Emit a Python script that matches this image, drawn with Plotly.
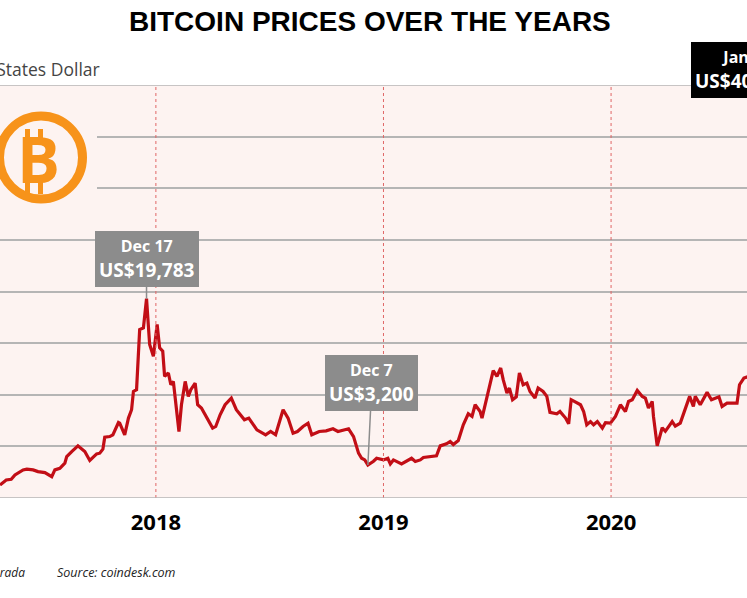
import plotly.graph_objects as go

# Bitcoin price (USD)
dates = [
    '2017-04-26', '2017-05-06', '2017-05-14', '2017-05-20', '2017-06-02', '2017-06-08',
    '2017-06-18', '2017-06-26', '2017-07-07', '2017-07-18', '2017-07-23', '2017-07-31',
    '2017-08-08', '2017-08-11', '2017-08-19', '2017-08-29', '2017-09-09', '2017-09-17',
    '2017-09-28', '2017-10-03', '2017-10-08', '2017-10-11', '2017-10-19', '2017-10-24',
    '2017-11-02', '2017-11-04', '2017-11-12', '2017-11-18', '2017-11-23', '2017-11-26',
    '2017-12-01', '2017-12-06', '2017-12-12', '2017-12-17', '2017-12-22', '2017-12-28',
    '2018-01-03', '2018-01-07', '2018-01-12', '2018-01-15', '2018-01-21', '2018-01-25',
    '2018-01-29', '2018-02-07', '2018-02-11', '2018-02-17', '2018-02-22', '2018-02-26',
    '2018-03-05', '2018-03-09', '2018-03-15', '2018-03-23', '2018-04-02', '2018-04-07',
    '2018-04-14', '2018-04-22', '2018-05-02', '2018-05-10', '2018-05-23', '2018-05-30',
    '2018-06-12', '2018-06-26', '2018-07-04', '2018-07-12', '2018-07-17', '2018-07-24',
    '2018-08-01', '2018-08-09', '2018-08-16', '2018-08-25', '2018-09-02', '2018-09-08',
    '2018-09-20', '2018-10-01', '2018-10-12', '2018-10-20', '2018-11-06', '2018-11-14',
    '2018-11-22', '2018-11-27', '2018-12-02', '2018-12-07', '2018-12-16', '2018-12-21',
    '2019-01-01', '2019-01-08', '2019-01-12', '2019-01-17', '2019-01-30', '2019-02-15',
    '2019-02-21', '2019-03-01', '2019-03-06', '2019-03-27', '2019-04-02', '2019-04-12',
    '2019-04-18', '2019-04-23', '2019-05-01', '2019-05-09', '2019-05-17', '2019-05-23',
    '2019-05-28', '2019-06-05', '2019-06-08', '2019-06-16', '2019-06-22', '2019-06-26',
    '2019-07-02', '2019-07-08', '2019-07-12', '2019-07-18', '2019-07-22', '2019-07-27',
    '2019-08-02', '2019-08-07', '2019-08-13', '2019-08-19', '2019-08-24', '2019-09-01',
    '2019-09-06', '2019-09-14', '2019-09-20', '2019-09-25', '2019-10-06', '2019-10-11',
    '2019-10-20', '2019-10-25', '2019-10-29', '2019-11-07', '2019-11-13', '2019-11-18',
    '2019-11-23', '2019-11-29', '2019-12-04', '2019-12-10', '2019-12-18', '2019-12-23',
    '2019-12-31', '2020-01-08', '2020-01-16', '2020-01-24', '2020-01-29', '2020-02-04',
    '2020-02-12', '2020-02-20', '2020-02-25', '2020-03-01', '2020-03-07', '2020-03-09',
    '2020-03-15', '2020-03-23', '2020-03-28', '2020-04-08', '2020-04-13', '2020-04-21',
    '2020-04-29', '2020-05-06', '2020-05-12', '2020-05-15', '2020-05-23', '2020-06-03',
    '2020-06-10', '2020-06-22', '2020-06-27', '2020-07-05', '2020-07-13', '2020-07-21',
    '2020-07-25', '2020-08-01', '2020-08-10',
]
prices = [
    1260, 1750, 1810, 2230, 2720, 2790,
    2720, 2560, 2460, 2070, 2720, 2880,
    3370, 4010, 4500, 5050, 4500, 3630,
    4270, 4340, 4730, 5890, 5950, 6120,
    7310, 7250, 6120, 7740, 8550, 10320,
    10490, 16310, 16480, 19300, 14860, 13720,
    16800, 14540, 14210, 11780, 12110, 10970,
    11290, 6440, 9030, 11290, 9840, 10490,
    11130, 9030, 8710, 7900, 6770, 6930,
    8060, 9030, 9680, 8550, 7580, 7740,
    6600, 6120, 6440, 6120, 7250, 8550,
    7740, 6280, 6440, 6930, 7250, 6120,
    6440, 6500, 6700, 6440, 6700, 5950,
    4340, 3850, 3690, 3200, 3560, 3850,
    3690, 3850, 3300, 3690, 3300, 3850,
    3530, 3690, 3920, 4080, 5050, 5240,
    5470, 5180, 5570, 7090, 8160, 7900,
    9030, 8380, 7740, 9680, 11130, 12330,
    11770, 12590, 11460, 10160, 10650, 9520,
    9800, 12110, 10970, 11130, 10320, 9680,
    10650, 10320, 9840, 8290, 8160, 8380,
    7740, 7190, 9520, 9190, 9030, 8380,
    7090, 7400, 7090, 7400, 6770, 7300,
    7250, 7900, 9030, 8380, 9350, 9520,
    10420, 9840, 9680, 8710, 9350, 7900,
    5050, 6800, 6460, 7400, 6960, 7250,
    8710, 9840, 8870, 9840, 9030, 10230,
    9520, 9800, 8870, 9190, 9190, 9190,
    10970, 11620, 11800,
]

year_ticks = ['2018-01-01', '2019-01-01', '2020-01-01']
year_labels = ['2018', '2019', '2020']

W, H = 747, 598
TOP, BOTTOM = 85, 498
ORANGE = '#F7931A'
GREY_BOX = '#8C8C8C'
GRID = '#B5B5B5'


def px(x):
    return x / W


def py(y):
    return (BOTTOM - y) / (BOTTOM - TOP)


def label(x, y, text, size, color, xanchor='center', family='Open Sans'):
    fig.add_annotation(xref='paper', yref='paper', x=px(x), y=py(y),
                       xanchor=xanchor, yanchor='middle', text=text, showarrow=False,
                       font=dict(family=family, size=size, color=color))


fig = go.Figure()

fig.add_trace(go.Scatter(
    x=dates, y=prices, mode='lines',
    line=dict(color='#C20E16', width=3.2),
    hoverinfo='skip', showlegend=False
))

# Dotted red year markers
for d in year_ticks:
    fig.add_vline(x=d, line_dash='dot', line_color='#E06666', line_width=1)

# Grid edges at top and bottom of the plot area
fig.add_hline(y=0, line_color=GRID, line_width=1.5)
fig.add_hline(y=40000, line_color=GRID, line_width=1.5)

# Bitcoin logo: patch over the grid, ring, B with its strokes
fig.add_shape(type='rect', xref='paper', yref='paper', layer='above',
              x0=0, x1=px(97), y0=py(212), y1=py(108),
              fillcolor='#FDF3F1', line_width=0)
fig.add_shape(type='circle', xref='paper', yref='paper', layer='above',
              x0=px(-0.5), x1=px(82.5), y0=py(199), y1=py(116),
              line=dict(color=ORANGE, width=9), fillcolor='rgba(0,0,0,0)')
for x0 in (25, 38):
    fig.add_shape(type='rect', xref='paper', yref='paper', layer='above',
                  x0=px(x0), x1=px(x0 + 5), y0=py(140), y1=py(129),
                  fillcolor=ORANGE, line_width=0)
    fig.add_shape(type='rect', xref='paper', yref='paper', layer='above',
                  x0=px(x0), x1=px(x0 + 5), y0=py(194), y1=py(181),
                  fillcolor=ORANGE, line_width=0)
label(38, 158, '<b>B</b>', 64, ORANGE)

# Price callouts
box_font = dict(family='Open Sans', size=19, color='white')
fig.add_annotation(
    x='2017-12-17', y=19300,
    text='<b><span style="font-size:16px">Dec 17</span><br>US$19,783</b>',
    showarrow=True, arrowhead=0, arrowwidth=1.5, arrowcolor=GREY_BOX,
    ax=0, ay=-40, bgcolor=GREY_BOX, bordercolor=GREY_BOX, borderpad=3,
    font=box_font, align='center'
)
fig.add_annotation(
    x='2018-12-07', y=3200,
    text='<b><span style="font-size:16px">Dec 7</span><br>US$3,200</b>',
    showarrow=True, arrowhead=0, arrowwidth=1.5, arrowcolor=GREY_BOX,
    ax=4, ay=-82, bgcolor=GREY_BOX, bordercolor=GREY_BOX, borderpad=3,
    font=box_font, align='center'
)
fig.add_annotation(
    xref='paper', yref='paper', x=px(691), y=py(42), xanchor='left', yanchor='top',
    text='<b><span style="font-size:16px">Jan 8</span><br>US$40,797</b>', showarrow=False,
    bgcolor='black', bordercolor='black', borderpad=3,
    font=box_font, align='center'
)

# Title, unit, footer
label(370, 22, '<b>BITCOIN PRICES OVER THE YEARS</b>', 28, 'black',
      family='Liberation Sans, Arial, sans-serif')
label(102, 69, 'United States Dollar', 17.5, '#444444', xanchor='right')
label(27, 572, '<i>Graphic: Parada</i>', 12, '#222222', xanchor='right')
label(55, 572, '<i>Source: coindesk.com</i>', 12.5, '#222222', xanchor='left')

fig.update_layout(
    width=W, height=H,
    margin=dict(l=0, r=0, t=TOP, b=H - BOTTOM),
    paper_bgcolor='white',
    plot_bgcolor='#FDF3F1',
    showlegend=False,
    xaxis=dict(
        range=['2017-04-26', '2020-08-06'],
        tickvals=year_ticks,
        ticktext=['<b>%s</b>' % t for t in year_labels],
        tickfont=dict(family='Open Sans', size=22, color='black'),
        showgrid=False, zeroline=False, showline=False, ticks='',
        ticklabelstandoff=9
    ),
    yaxis=dict(
        range=[0, 40000], dtick=5000,
        showgrid=True, gridcolor=GRID, gridwidth=1.5,
        showticklabels=False, zeroline=False, showline=False, ticks=''
    ),
)

fig.write_html('out.html', config={'displayModeBar': False},
               post_script="document.body.style.margin='0';")
